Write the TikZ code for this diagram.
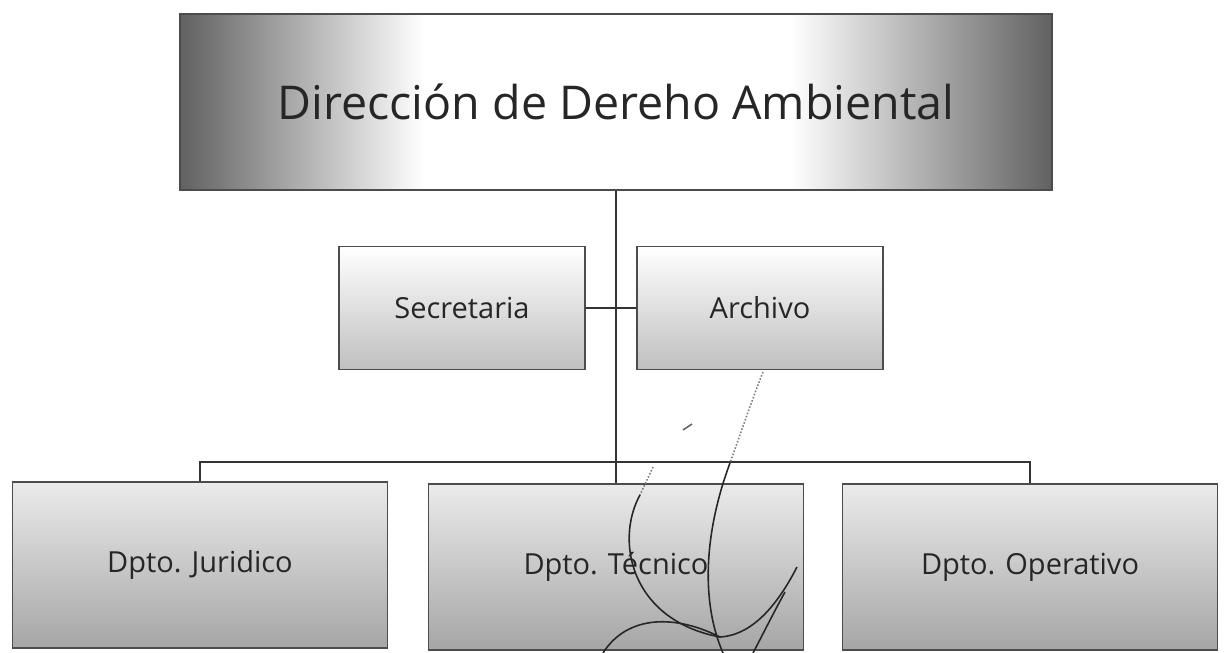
\documentclass[tikz,border=0pt]{standalone}
\usepackage{fontspec}
\setmainfont{Open Sans}
\pgfdeclarehorizontalshading{dirsombra}{100bp}{color(0bp)=(black!62); color(25bp)=(black!62);
  color(39bp)=(white); color(60bp)=(white); color(75bp)=(black!62); color(100bp)=(black!62)}
\begin{document}
\begin{tikzpicture}[x=0.02cm,y=-0.02cm,
  caja/.style={draw=black!70,line width=.8pt,text=black!85,inner sep=0pt,
    font=\fontsize{16.5}{20}\selectfont},
  cajatop/.style={caja,shading=dirsombra,
    minimum width=17.44cm,minimum height=3.52cm,font=\fontsize{26.5}{32}\selectfont},
  cajamed/.style={caja,top color=white,bottom color=black!25,
    minimum width=4.92cm,minimum height=2.46cm},
  cajadpto/.style={caja,top color=black!8,bottom color=black!35,
    minimum width=7.5cm,minimum height=3.32cm},
  linea/.style={draw=black!80,line width=.8pt},
  firma/.style={draw=black!85,line width=.9pt}]
\useasboundingbox (0,0) rectangle (1225,653);
\node[cajatop] (dir) at (616,102) {Dirección de Dereho Ambiental};
\node[cajamed] (secre) at (462,308) {Secretaria};
\node[cajamed] (archi) at (760,308) {Archivo};
\node[cajadpto] (jur) at (200,565) {Dpto. Juridico};
\node[cajadpto] (tec) at (616,567) {Dpto. Técnico};
\node[cajadpto] (oper) at (1030,567) {Dpto. Operativo};
\coordinate (bus) at (616,462);
\draw[linea] (dir.south) -- (tec.north);
\draw[linea] (secre.east) -- (archi.west);
\draw[linea] (jur.north) |- (bus) -| (oper.north);
% firma
\draw[firma,black!50,densely dotted] (763,372) .. controls (752,400) and (740,435) .. (730,463);
\draw[firma] (730,463) .. controls (705,530) and (700,600) .. (723,653);
\draw[firma,black!50,densely dotted] (653,467) .. controls (648,478) and (644,486) .. (640,495);
\draw[firma] (640,495) .. controls (615,540) and (630,620) .. (720,637)
  .. controls (755,635) and (780,600) .. (797,567);
\draw[firma,black!60] (683,430) -- (692,424);
\draw[firma] (603,653) .. controls (625,618) and (670,612) .. (720,637);
\draw[firma] (753,653) .. controls (765,630) and (775,610) .. (785,592);
\end{tikzpicture}
\end{document}
